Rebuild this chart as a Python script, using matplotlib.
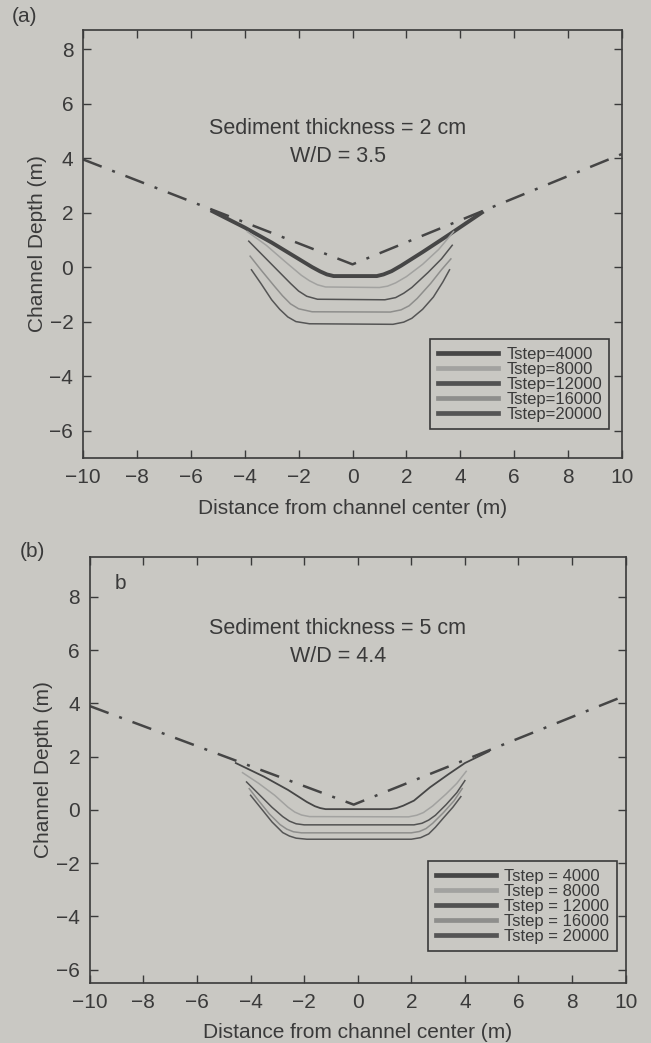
import matplotlib
matplotlib.use("Agg")
import matplotlib.pyplot as plt
from matplotlib.lines import Line2D

plt.rcParams['font.family'] = ['Liberation Sans', 'DejaVu Sans']

BG = '#c9c8c3'
INK = '#3a3a3a'

# --- panel (a): sediment thickness 2 cm ---
a_init_x = [-10, 0, 10]
a_init_y = [3.95, 0.1, 4.15]

a_4000_x = [-5.2, -4.0, -3.0, -2.0, -1.5, -1.2, -0.95, -0.7, 0.9, 1.15, 1.45, 1.8, 2.6, 3.6, 4.8]
a_4000_y = [2.05, 1.45, 0.9, 0.3, 0.0, -0.16, -0.27, -0.33, -0.33, -0.27, -0.15, 0.05, 0.55, 1.2, 2.0]

a_8000_x = [-3.9, -3.2, -2.5, -1.9, -1.6, -1.3, -1.0, 1.0, 1.3, 1.6, 2.0, 2.6, 3.2, 3.75]
a_8000_y = [1.3, 0.8, 0.2, -0.3, -0.5, -0.65, -0.73, -0.75, -0.7, -0.58, -0.35, 0.1, 0.65, 1.3]

a_12000_x = [-3.85, -3.3, -2.7, -2.3, -2.0, -1.7, -1.3, 1.2, 1.6, 1.9, 2.2, 2.8, 3.3, 3.7]
a_12000_y = [0.95, 0.4, -0.2, -0.6, -0.88, -1.07, -1.18, -1.2, -1.12, -0.96, -0.75, -0.2, 0.3, 0.8]

a_16000_x = [-3.8, -3.4, -2.9, -2.6, -2.3, -2.0, -1.5, 1.4, 1.8, 2.1, 2.4, 2.9, 3.3, 3.65]
a_16000_y = [0.4, -0.1, -0.7, -1.05, -1.35, -1.53, -1.64, -1.65, -1.57, -1.42, -1.15, -0.6, -0.1, 0.3]

a_20000_x = [-3.75, -3.4, -3.0, -2.7, -2.4, -2.1, -1.6, 1.5, 1.9, 2.2, 2.6, 3.0, 3.35, 3.6]
a_20000_y = [-0.1, -0.6, -1.2, -1.55, -1.83, -2.0, -2.08, -2.1, -2.02, -1.88, -1.55, -1.1, -0.55, -0.1]

# --- panel (b): sediment thickness 5 cm ---
b_init_x = [-10, -0.15, 10]
b_init_y = [3.9, 0.2, 4.3]

b_4000_x = [-4.55, -3.5, -2.6, -1.9, -1.6, -1.4, -1.2, 1.2, 1.45, 1.7, 2.1, 2.7, 3.4, 4.0, 4.9]
b_4000_y = [1.76, 1.25, 0.75, 0.3, 0.14, 0.07, 0.03, 0.03, 0.07, 0.16, 0.35, 0.85, 1.35, 1.76, 2.2]

b_8000_x = [-4.3, -3.7, -3.1, -2.6, -2.35, -2.1, -1.8, 1.9, 2.2, 2.45, 2.8, 3.3, 3.7, 4.05]
b_8000_y = [1.4, 1.0, 0.55, 0.1, -0.08, -0.19, -0.25, -0.26, -0.2, -0.1, 0.15, 0.6, 1.0, 1.45]

b_12000_x = [-4.15, -3.7, -3.2, -2.8, -2.55, -2.3, -2.0, 2.1, 2.4, 2.65, 2.9, 3.3, 3.7, 4.0]
b_12000_y = [1.05, 0.6, 0.1, -0.25, -0.42, -0.52, -0.56, -0.56, -0.5, -0.38, -0.2, 0.2, 0.65, 1.1]

b_16000_x = [-4.05, -3.7, -3.3, -2.9, -2.65, -2.4, -2.1, 2.0, 2.3, 2.55, 2.8, 3.2, 3.6, 3.9]
b_16000_y = [0.8, 0.35, -0.15, -0.55, -0.72, -0.82, -0.86, -0.86, -0.81, -0.7, -0.5, -0.1, 0.35, 0.8]

b_20000_x = [-4.0, -3.6, -3.2, -2.8, -2.55, -2.3, -1.9, 2.0, 2.35, 2.65, 2.9, 3.2, 3.55, 3.85]
b_20000_y = [0.55, 0.05, -0.45, -0.85, -0.98, -1.06, -1.1, -1.1, -1.04, -0.9, -0.65, -0.3, 0.1, 0.5]

steps = ['4000', '8000', '12000', '16000', '20000']
step_colors = ['#464646', '#a2a2a0', '#525252', '#8e8e8c', '#555555']

fig = plt.figure(figsize=(6.51, 10.43), dpi=100, facecolor=BG)
ax1 = fig.add_axes([0.1275, 0.561, 0.828, 0.4103], facecolor=BG)
ax2 = fig.add_axes([0.138, 0.0575, 0.823, 0.4085], facecolor=BG)

dashdot = (0, (8, 4.5, 1.2, 4.5))

# panel a
ax1.plot(a_init_x, a_init_y, color='#454545', lw=1.8, ls=dashdot)
ax1.plot(a_4000_x, a_4000_y, color=step_colors[0], lw=2.8, solid_joinstyle='round')
ax1.plot(a_8000_x, a_8000_y, color=step_colors[1], lw=1.1)
ax1.plot(a_12000_x, a_12000_y, color=step_colors[2], lw=1.1)
ax1.plot(a_16000_x, a_16000_y, color=step_colors[3], lw=1.1)
ax1.plot(a_20000_x, a_20000_y, color=step_colors[4], lw=1.1)
ax1.set_ylim(-7, 8.7)
ax1.text(-0.55, 5.1, 'Sediment thickness = 2 cm', ha='center', va='center', fontsize=15.5, color=INK)
ax1.text(-0.55, 4.05, 'W/D = 3.5', ha='center', va='center', fontsize=15.5, color=INK)
fig.text(0.018, 0.984, '(a)', fontsize=15, color=INK, va='center')

# panel b
ax2.plot(b_init_x, b_init_y, color='#454545', lw=1.8, ls=dashdot)
ax2.plot(b_4000_x, b_4000_y, color=step_colors[0], lw=1.3)
ax2.plot(b_8000_x, b_8000_y, color=step_colors[1], lw=1.1)
ax2.plot(b_12000_x, b_12000_y, color=step_colors[2], lw=1.1)
ax2.plot(b_16000_x, b_16000_y, color=step_colors[3], lw=1.1)
ax2.plot(b_20000_x, b_20000_y, color=step_colors[4], lw=1.1)
ax2.set_ylim(-6.5, 9.5)
ax2.text(-0.75, 6.8, 'Sediment thickness = 5 cm', ha='center', va='center', fontsize=15.5, color=INK)
ax2.text(-0.75, 5.75, 'W/D = 4.4', ha='center', va='center', fontsize=15.5, color=INK)
ax2.text(-8.85, 8.5, 'b', ha='center', va='center', fontsize=15, color=INK)
fig.text(0.03, 0.471, '(b)', fontsize=15, color=INK, va='center')

for ax, sep, anchor, lpad in [(ax1, '=', (0.992, 0.048), 9), (ax2, ' = ', (0.999, 0.055), 8)]:
    ax.set_xlim(-10, 10)
    ax.set_xticks(range(-10, 11, 2))
    ax.set_yticks(range(-6, 9, 2))
    ax.tick_params(direction='in', top=True, right=True, length=6, width=1,
                   colors=INK, labelsize=15, pad=7)
    for s in ax.spines.values():
        s.set_color(INK)
        s.set_linewidth(1.2)
    ax.set_xlabel('Distance from channel center (m)', fontsize=15, color=INK, labelpad=lpad)
    ax.set_ylabel('Channel Depth (m)', fontsize=15, color=INK, labelpad=2)
    handles = [Line2D([0], [0], color=c, lw=3.4) for c in step_colors]
    labels = ['Tstep' + sep + s for s in steps]
    leg = ax.legend(handles, labels, loc='lower right', fontsize=12, handlelength=3.6,
                    labelspacing=0.0, handletextpad=0.5, borderpad=0.45,
                    fancybox=False, framealpha=1, facecolor=BG, edgecolor=INK,
                    bbox_to_anchor=anchor)
    leg.get_frame().set_linewidth(1.2)
    for t in leg.get_texts():
        t.set_color(INK)

fig.savefig('out.png', dpi=100, facecolor=BG)
